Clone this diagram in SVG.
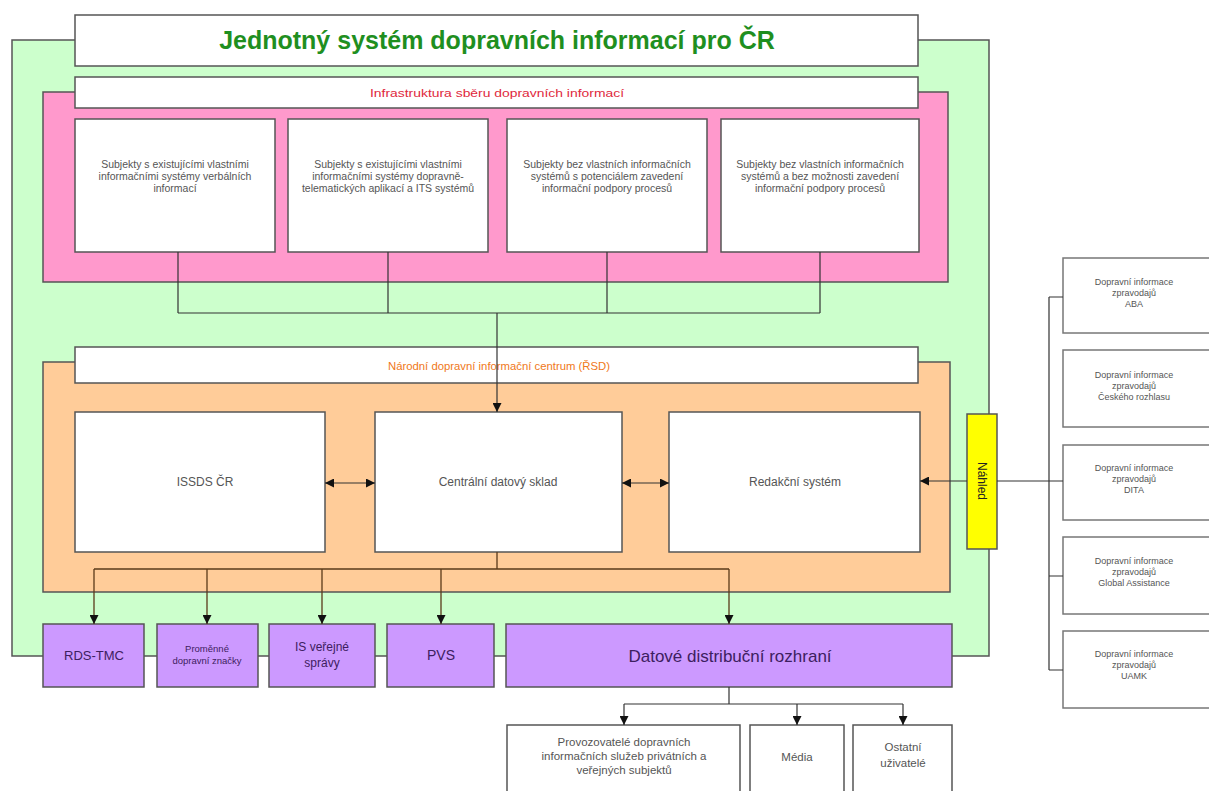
<svg xmlns="http://www.w3.org/2000/svg" width="1209" height="791" viewBox="0 0 1209 791">
  <style>
    .box { fill: #ffffff; stroke: #555555; stroke-width: 1.5; }
    .ext { fill: #ffffff; stroke: #777777; stroke-width: 1.5; }
    .purple { fill: #cc99ff; stroke: #555555; stroke-width: 1.5; }
    .line { fill: none; stroke: #333333; stroke-width: 1.2; }
    .brown { fill: none; stroke: #5a3a1a; stroke-width: 1.3; }
    .t { font-family: "Liberation Sans", Arial, sans-serif; text-anchor: middle; }
    .small { font-size: 10.5px; fill: #555555; }
    .ext-t { font-size: 9px; fill: #555555; }
    .mid { font-size: 12px; fill: #555555; }
    .low { font-size: 11.5px; fill: #555555; }
    .pt { fill: #3d2060; }
  </style>
  <defs>
    <marker id="arrow" viewBox="0 0 10 10" refX="10" refY="5" markerWidth="9" markerHeight="9" orient="auto" markerUnits="userSpaceOnUse">
      <path d="M0,0 L10,5 L0,10 z" fill="#111111"/>
    </marker>
    <marker id="arrowStart" viewBox="0 0 10 10" refX="0" refY="5" markerWidth="9" markerHeight="9" orient="auto" markerUnits="userSpaceOnUse">
      <path d="M10,0 L0,5 L10,10 z" fill="#111111"/>
    </marker>
  </defs>

  <rect width="1209" height="791" fill="#ffffff"/>

  <!-- outer system frame -->
  <g id="system">
    <rect x="12" y="40" width="977" height="616" fill="#ccffcc" stroke="#555555" stroke-width="1.5"/>
    <rect x="75" y="15" width="843" height="51" class="box"/>
    <text x="497" y="49" class="t" font-size="25" font-weight="bold" fill="#1f8f1f">Jednotný systém dopravních informací pro ČR</text>
  </g>

  <!-- data collection layer -->
  <g id="collection">
    <rect x="43" y="92" width="905" height="190" fill="#ff99cc" stroke="#555555" stroke-width="1.5"/>
    <rect x="75" y="77" width="843" height="31" class="box"/>
    <text x="497" y="97" class="t" font-size="11" fill="#e0283c" textLength="254" lengthAdjust="spacingAndGlyphs">Infrastruktura sběru dopravních informací</text>
  </g>

  <g id="src1">
    <rect x="75" y="119" width="200" height="133" class="box"/>
    <text class="t small" x="175" y="168">Subjekty s existujícími vlastními</text>
    <text class="t small" x="175" y="180">informačními systémy verbálních</text>
    <text class="t small" x="175" y="192">informací</text>
  </g>
  <g id="src2">
    <rect x="288" y="119" width="200" height="133" class="box"/>
    <text class="t small" x="388" y="168">Subjekty s existujícími vlastními</text>
    <text class="t small" x="388" y="180">informačními systémy dopravně-</text>
    <text class="t small" x="388" y="192">telematických aplikací a ITS systémů</text>
  </g>
  <g id="src3">
    <rect x="507" y="119" width="200" height="133" class="box"/>
    <text class="t small" x="607" y="168">Subjekty bez vlastních informačních</text>
    <text class="t small" x="607" y="180">systémů s potenciálem zavedení</text>
    <text class="t small" x="607" y="192">informační podpory procesů</text>
  </g>
  <g id="src4">
    <rect x="721" y="119" width="198" height="133" class="box"/>
    <text class="t small" x="820" y="168">Subjekty bez vlastních informačních</text>
    <text class="t small" x="820" y="180">systémů a bez možnosti zavedení</text>
    <text class="t small" x="820" y="192">informační podpory procesů</text>
  </g>

  <!-- national centre -->
  <g id="centre">
    <rect x="43" y="362" width="907" height="230" fill="#ffcc99" stroke="#555555" stroke-width="1.5"/>
    <rect x="75" y="347" width="843" height="36" class="box"/>
    <text x="499" y="370" class="t" font-size="11.5" fill="#f07820" textLength="222" lengthAdjust="spacingAndGlyphs">Národní dopravní informační centrum (ŘSD)</text>
  </g>

  <g id="issds">
    <rect x="75" y="412" width="250" height="140" class="box"/>
    <text class="t mid" x="205" y="486">ISSDS ČR</text>
  </g>
  <g id="warehouse">
    <rect x="375" y="412" width="247" height="140" class="box"/>
    <text class="t mid" x="498" y="486">Centrální datový sklad</text>
  </g>
  <g id="editorial">
    <rect x="669" y="412" width="251" height="140" class="box"/>
    <text class="t mid" x="795" y="486">Redakční systém</text>
  </g>

  <g id="preview">
    <rect x="967" y="414" width="30" height="135" fill="#ffff00" stroke="#555555" stroke-width="1.5"/>
    <text class="t" font-size="12" fill="#222222" transform="translate(977.5,481) rotate(90)">Náhled</text>
  </g>

  <!-- outputs -->
  <g id="rds">
    <rect x="43" y="624" width="101" height="63" class="purple"/>
    <text class="t pt" x="94" y="660" font-size="13">RDS-TMC</text>
  </g>
  <g id="vms">
    <rect x="157" y="624" width="101" height="63" class="purple"/>
    <text class="t pt" x="207" y="652" font-size="9.5">Proměnné</text>
    <text class="t pt" x="207" y="664" font-size="9.5">dopravní značky</text>
  </g>
  <g id="isvs">
    <rect x="269" y="624" width="106" height="63" class="purple"/>
    <text class="t pt" x="322" y="651" font-size="12">IS veřejné</text>
    <text class="t pt" x="322" y="667" font-size="12">správy</text>
  </g>
  <g id="pvs">
    <rect x="387" y="624" width="107" height="63" class="purple"/>
    <text class="t pt" x="441" y="660" font-size="14">PVS</text>
  </g>
  <g id="ddr">
    <rect x="506" y="624" width="446" height="63" class="purple"/>
    <text class="t pt" x="730" y="662" font-size="17">Datové distribuční rozhraní</text>
  </g>

  <!-- consumers -->
  <g id="operators">
    <rect x="507" y="725" width="233" height="80" class="box"/>
    <text class="t low" x="624" y="746">Provozovatelé dopravních</text>
    <text class="t low" x="624" y="760">informačních služeb privátních a</text>
    <text class="t low" x="624" y="774">veřejných subjektů</text>
  </g>
  <g id="media">
    <rect x="750" y="725" width="94" height="80" class="box"/>
    <text class="t low" x="797" y="761">Média</text>
  </g>
  <g id="others">
    <rect x="853" y="725" width="99" height="80" class="box"/>
    <text class="t low" x="903" y="751">Ostatní</text>
    <text class="t low" x="903" y="767">uživatelé</text>
  </g>

  <!-- external reporters -->
  <g id="aba">
    <rect x="1063" y="258" width="160" height="75" class="ext"/>
    <text class="t ext-t" x="1134" y="285">Dopravní informace</text>
    <text class="t ext-t" x="1134" y="296">zpravodajů</text>
    <text class="t ext-t" x="1134" y="307">ABA</text>
  </g>
  <g id="cro">
    <rect x="1063" y="350" width="160" height="77" class="ext"/>
    <text class="t ext-t" x="1134" y="378">Dopravní informace</text>
    <text class="t ext-t" x="1134" y="389">zpravodajů</text>
    <text class="t ext-t" x="1134" y="400">Českého rozhlasu</text>
  </g>
  <g id="dita">
    <rect x="1063" y="445" width="160" height="75" class="ext"/>
    <text class="t ext-t" x="1134" y="471">Dopravní informace</text>
    <text class="t ext-t" x="1134" y="482">zpravodajů</text>
    <text class="t ext-t" x="1134" y="493">DITA</text>
  </g>
  <g id="global">
    <rect x="1063" y="537" width="160" height="77" class="ext"/>
    <text class="t ext-t" x="1134" y="564">Dopravní informace</text>
    <text class="t ext-t" x="1134" y="575">zpravodajů</text>
    <text class="t ext-t" x="1134" y="586">Global Assistance</text>
  </g>
  <g id="uamk">
    <rect x="1063" y="631" width="160" height="77" class="ext"/>
    <text class="t ext-t" x="1134" y="657">Dopravní informace</text>
    <text class="t ext-t" x="1134" y="668">zpravodajů</text>
    <text class="t ext-t" x="1134" y="679">UAMK</text>
  </g>

  <!-- connectors -->
  <g id="connectors">
    <path class="line" d="M178,252 V313 M388,252 V313 M607,252 V313 M820,252 V313 M178,313 H820"/>
    <path class="line" d="M497,313 V412" marker-end="url(#arrow)"/>
    <path class="line" d="M325,483 H375" marker-start="url(#arrowStart)" marker-end="url(#arrow)"/>
    <path class="line" d="M622,483 H669" marker-start="url(#arrowStart)" marker-end="url(#arrow)"/>
    <path class="line" d="M967,481 H920" marker-end="url(#arrow)"/>
    <path class="line" stroke="#666666" d="M997,481 H1063"/>
    <path class="line" stroke="#666666" d="M1049,297 V670 M1049,297 H1063 M1049,576 H1063 M1049,670 H1063"/>
    <path class="brown" d="M497,552 V569 M94,569 H729"/>
    <path class="brown" d="M94,569 V624" marker-end="url(#arrow)"/>
    <path class="brown" d="M207,569 V624" marker-end="url(#arrow)"/>
    <path class="brown" d="M322,569 V624" marker-end="url(#arrow)"/>
    <path class="brown" d="M441,569 V624" marker-end="url(#arrow)"/>
    <path class="brown" d="M729,569 V624" marker-end="url(#arrow)"/>
    <path class="line" d="M729,687 V704 M624,704 H903"/>
    <path class="line" d="M624,704 V725" marker-end="url(#arrow)"/>
    <path class="line" d="M797,704 V725" marker-end="url(#arrow)"/>
    <path class="line" d="M903,704 V725" marker-end="url(#arrow)"/>
  </g>
</svg>
